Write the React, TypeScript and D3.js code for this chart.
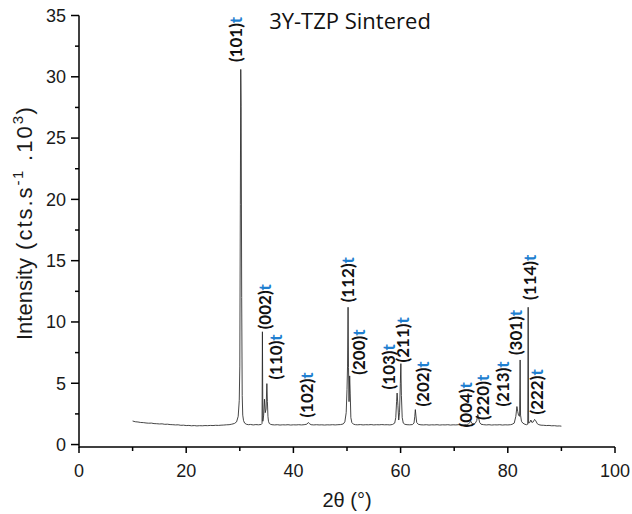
import React from "react";
import * as d3 from "d3";

// Diffraction pattern (2θ in degrees, intensity in cts.s^-1 x 10^3)
const twoTheta = [
  10.0, 10.5, 11.0, 11.5, 12.0, 12.5, 13.0, 13.5, 14.0, 14.5, 15.0, 15.5, 16.0, 16.5, 17.0, 17.5,
  18.0, 18.5, 19.0, 19.5, 20.0, 20.5, 21.0, 21.5, 22.0, 22.5, 23.0, 23.5, 24.0, 24.5, 25.0, 25.5,
  26.0, 26.5, 27.0, 27.5, 28.0, 28.5, 29.0, 29.4, 29.7, 29.9, 30.0, 30.1, 30.18, 30.25, 30.35, 30.45,
  30.55, 30.7, 30.9, 31.2, 31.6, 32.0, 32.5, 33.0, 33.5, 34.0, 34.15, 34.22, 34.3, 34.45, 34.6, 34.75,
  34.9, 35.05, 35.15, 35.25, 35.35, 35.5, 35.7, 36.0, 36.5, 37.0, 37.5, 38.0, 38.5, 39.0, 39.5, 40.0,
  40.5, 41.0, 41.5, 42.0, 42.5, 42.8, 43.0, 43.3, 43.8, 44.3, 44.8, 45.3, 45.8, 46.3, 46.8, 47.3,
  47.8, 48.3, 48.8, 49.3, 49.6, 49.85, 50.0, 50.1, 50.2, 50.28, 50.38, 50.5, 50.6, 50.72, 50.9, 51.2,
  51.6, 52.0, 52.5, 53.0, 53.5, 54.0, 54.5, 55.0, 55.5, 56.0, 56.5, 57.0, 57.5, 58.0, 58.5, 58.9,
  59.1, 59.25, 59.35, 59.5, 59.65, 59.8, 59.95, 60.05, 60.15, 60.3, 60.5, 60.8, 61.2, 61.7, 62.2, 62.5,
  62.65, 62.75, 62.85, 63.0, 63.3, 63.8, 64.3, 64.8, 65.3, 65.8, 66.3, 66.8, 67.3, 67.8, 68.3, 68.8,
  69.3, 69.8, 70.3, 70.8, 71.3, 71.8, 72.3, 72.6, 72.9, 73.1, 73.3, 73.6, 73.9, 74.2, 74.4, 74.55,
  74.75, 75.0, 75.5, 76.0, 76.5, 77.0, 77.5, 78.0, 78.5, 79.0, 79.5, 80.0, 80.5, 80.8, 81.2, 81.5,
  81.7, 81.85, 82.0, 82.2, 82.3, 82.38, 82.55, 82.8, 83.2, 83.5, 83.72, 83.8, 83.88, 84.1, 84.3, 84.5,
  84.75, 85.0, 85.2, 85.5, 85.8, 86.2, 86.7, 87.2, 87.7, 88.2, 88.7, 89.2, 89.6, 90.0,
];
const intensity = [
  1.92, 1.86, 1.84, 1.80, 1.79, 1.76, 1.74, 1.75, 1.71, 1.70, 1.68, 1.69, 1.65, 1.66, 1.63, 1.62,
  1.60, 1.61, 1.57, 1.58, 1.55, 1.56, 1.53, 1.55, 1.52, 1.54, 1.53, 1.55, 1.54, 1.56, 1.55, 1.57,
  1.56, 1.58, 1.59, 1.61, 1.62, 1.66, 1.72, 1.85, 2.3, 3.6, 6.4, 19.6, 30.6, 27.6, 12.0, 4.0,
  2.4, 1.95, 1.75, 1.66, 1.62, 1.64, 1.60, 1.63, 1.61, 1.64, 1.72, 9.2, 1.9, 2.4, 3.7, 2.6,
  2.9, 4.97, 3.5, 2.3, 1.9, 1.72, 1.66, 1.62, 1.60, 1.62, 1.59, 1.61, 1.60, 1.62, 1.59, 1.61,
  1.60, 1.62, 1.60, 1.62, 1.66, 1.80, 1.70, 1.62, 1.60, 1.62, 1.60, 1.61, 1.59, 1.61, 1.60, 1.62,
  1.60, 1.62, 1.63, 1.68, 1.85, 2.6, 4.5, 6.4, 11.2, 6.3, 3.5, 5.6, 4.2, 2.2, 1.8, 1.66,
  1.62, 1.61, 1.63, 1.60, 1.62, 1.61, 1.63, 1.60, 1.62, 1.61, 1.63, 1.61, 1.62, 1.60, 1.64, 1.75,
  2.2, 3.5, 4.2, 3.2, 2.0, 2.6, 5.0, 6.6, 4.0, 2.2, 1.75, 1.65, 1.62, 1.61, 1.63, 1.75,
  2.3, 2.85, 2.4, 1.8, 1.65, 1.61, 1.60, 1.62, 1.59, 1.61, 1.60, 1.62, 1.59, 1.61, 1.60, 1.62,
  1.59, 1.61, 1.60, 1.62, 1.60, 1.61, 1.63, 1.66, 1.78, 1.9, 1.72, 1.66, 1.72, 1.95, 2.45, 2.2,
  1.8, 1.66, 1.62, 1.60, 1.62, 1.59, 1.61, 1.60, 1.62, 1.59, 1.61, 1.60, 1.62, 1.65, 1.75, 2.3,
  3.1, 2.7, 2.4, 2.3, 6.9, 2.4, 1.9, 1.75, 1.65, 1.62, 1.66, 11.2, 1.75, 1.8, 2.0, 1.8,
  1.85, 2.05, 1.95, 1.7, 1.62, 1.58, 1.57, 1.55, 1.56, 1.53, 1.54, 1.51, 1.52, 1.50,
];

// Peak annotations: Miller index, label centre (2θ), label foot (intensity)
const peakLabels = ["(101)", "(002)", "(110)", "(102)", "(112)", "(200)", "(103)", "(211)", "(202)", "(004)", "(220)", "(213)", "(301)", "(114)", "(222)"];
const labelTwoTheta = [29.3, 34.7, 36.7, 42.6, 50.1, 52.3, 57.9, 60.4, 64.1, 72.2, 75.3, 79.0, 81.5, 84.2, 85.5];
const labelIntensity = [31.2, 9.4, 5.3, 2.2, 11.6, 5.7, 4.5, 6.7, 3.1, 1.4, 2.0, 3.1, 7.3, 11.8, 2.45];
const phaseMark = "t";

const xTicks = [0, 20, 40, 60, 80, 100];
const xMinorTicks = [10, 30, 50, 70, 90];
const yTicks = [0, 5, 10, 15, 20, 25, 30, 35];
const yMinorTicks = [2.5, 7.5, 12.5, 17.5, 22.5, 27.5, 32.5];

const title = "3Y-TZP Sintered";

export default function App() {
  const W = 632;
  const H = 514;
  const x = d3.scaleLinear().domain([0, 100]).range([79, 615]);
  const y = d3.scaleLinear().domain([-0.2, 35]).range([447, 15.5]);

  const pts: [number, number][] = twoTheta.map((t, i) => [t, intensity[i]]);
  const line = d3
    .line<[number, number]>()
    .x((d) => x(d[0]))
    .y((d) => y(d[1]));

  const axisFont = "'Liberation Sans', Arial, sans-serif";
  const labelFont = "Lato, 'Open Sans', sans-serif";

  return (
    <svg width={W} height={H} style={{ position: "absolute", left: 0, top: 0, background: "#fff" }}>
      <rect x={0} y={0} width={W} height={H} fill="#fff" />
      {/* spectrum */}
      <path d={line(pts) || ""} fill="none" stroke="#262626" strokeWidth={0.85} strokeLinejoin="round" />

      {/* axes */}
      <line x1={x(0)} x2={x(100)} y1={447} y2={447} stroke="#000" strokeWidth={1.5} />
      <line x1={79} x2={79} y1={y(35)} y2={447.75} stroke="#000" strokeWidth={1.5} />
      {xTicks.map((t) => (
        <g key={"xt" + t}>
          <line x1={x(t)} x2={x(t)} y1={447} y2={453} stroke="#000" strokeWidth={1.5} />
          <text x={x(t)} y={477} textAnchor="middle" fontFamily={axisFont} fontSize={18} fill="#1a1a1a">
            {t}
          </text>
        </g>
      ))}
      {xMinorTicks.map((t) => (
        <line key={"xm" + t} x1={x(t)} x2={x(t)} y1={447} y2={451} stroke="#000" strokeWidth={1.5} />
      ))}
      {yTicks.map((t) => (
        <g key={"yt" + t}>
          <line x1={71} x2={79} y1={y(t)} y2={y(t)} stroke="#000" strokeWidth={1.5} />
          <text x={66} y={y(t)} dy="0.35em" textAnchor="end" fontFamily={axisFont} fontSize={18} fill="#1a1a1a">
            {t}
          </text>
        </g>
      ))}
      {yMinorTicks.map((t) => (
        <line key={"ym" + t} x1={75} x2={79} y1={y(t)} y2={y(t)} stroke="#000" strokeWidth={1.5} />
      ))}

      {/* axis titles */}
      <text x={347} y={507} textAnchor="middle" fontFamily={axisFont} fontSize={20} fill="#1a1a1a">
        2θ (°)
      </text>
      <text
        transform="translate(32,340) rotate(-90)"
        textAnchor="start"
        fontFamily={axisFont}
        fontSize={22}
        fill="#1a1a1a"
      >
        Intensity
        <tspan letterSpacing={2}> (cts.s</tspan>
        <tspan fontSize={15} dy={-9} letterSpacing={1.5}>-1</tspan>
        <tspan dy={9} letterSpacing={2}> .10</tspan>
        <tspan fontSize={15} dy={-9} letterSpacing={1.5}>3</tspan>
        <tspan dy={9}>)</tspan>
      </text>

      {/* title */}
      <text x={350} y={29} textAnchor="middle" fontFamily="'Open Sans', sans-serif" fontSize={22} fill="#111">
        {title}
      </text>

      {/* peak labels */}
      {peakLabels.map((lab, i) => (
        <text
          key={lab}
          transform={`translate(${x(labelTwoTheta[i])},${y(labelIntensity[i])}) rotate(-90)`}
          dy="0.36em"
          fontFamily={labelFont}
          fontWeight="bold"
          fontSize={17}
          fill="#111"
        >
          {lab}
          <tspan fill="#1f7fd0">{phaseMark}</tspan>
        </text>
      ))}
    </svg>
  );
}
